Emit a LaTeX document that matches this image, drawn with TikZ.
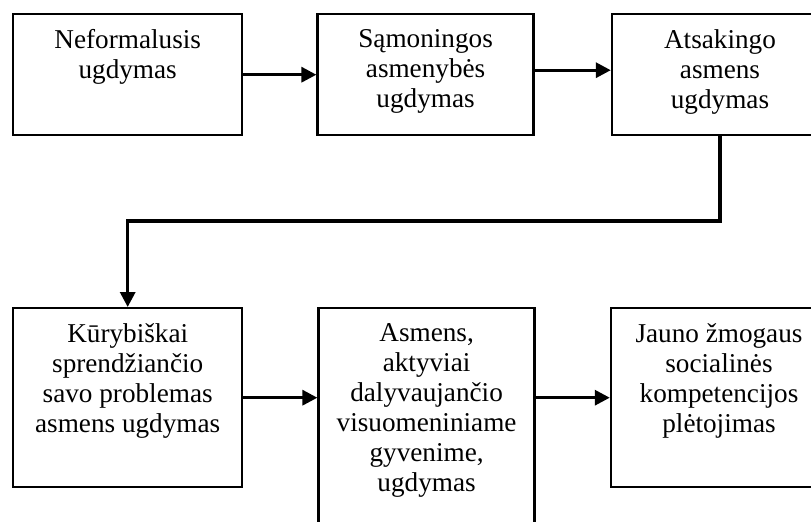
\documentclass[tikz,border=0pt]{standalone}
\usepackage{fontspec}
\setmainfont{Liberation Serif}
\usetikzlibrary{positioning,arrows.meta}
\tikzset{%
  box/.style  = {draw, line width=1.2pt, rectangle, inner sep=0pt,
    minimum width=108pt, minimum height=60.5pt},
  wide/.style = {minimum width=114.5pt}, % first column
  tall/.style = {minimum height=89.5pt}, % lower row
  txt/.style  = {anchor=north, align=center, inner sep=0pt,
    font=\fontsize{13.6}{15}\selectfont},
  arr/.style  = {line width=1.6pt, -{Triangle[length=7.5pt, width=7.5pt]}}
}

\begin{document}
\begin{tikzpicture}[x=0.5pt, y=-0.5pt, label distance=-8pt]
        \clip (0,0) rectangle (811,521);
        % upper row
        \node [box, wide, anchor=north west,
            label={[txt]north:{Neformalusis\\ugdymas}}] (neform) at (12,13) {};
        \node [box, right=36.5pt of neform,
            label={[txt]north:{Sąmoningos\\asmenybės\\ugdymas}}] (samon) {};
        \node [box, right=38pt of samon,
            label={[txt]north:{Atsakingo\\asmens\\ugdymas}}] (atsak) {};
        % lower row
        \node [box, wide, tall, anchor=north west,
            label={[txt]north:{Kūrybiškai\\sprendžiančio\\savo problemas\\asmens ugdymas}}] (kuryb) at (12,307) {};
        \node [box, minimum height=120pt, right=37pt of kuryb.north east, anchor=north west,
            label={[txt]north:{Asmens,\\aktyviai\\dalyvaujančio\\visuomeniniame\\gyvenime,\\ugdymas}}] (aktyv) {};
        \node [box, tall, right=37pt of aktyv.north east, anchor=north west,
            label={[txt]north:{Jauno žmogaus\\socialinės\\kompetencijos\\plėtojimas}}] (kompet) {};
        \coordinate (turn) at (0,221);
        \draw[arr] (neform) -- (samon);
        \draw[arr] ([yshift=2.25pt]samon.east) -- ([yshift=2.25pt]atsak.west);
        \draw[arr] (atsak.south) -- (atsak.south |- turn) -- (kuryb.north |- turn) -- (kuryb.north);
        \draw[arr] (kuryb.east) -- (kuryb.east -| aktyv.west);
        \draw[arr] (kompet.west -| aktyv.east) -- (kompet.west);
\end{tikzpicture}
\end{document}
